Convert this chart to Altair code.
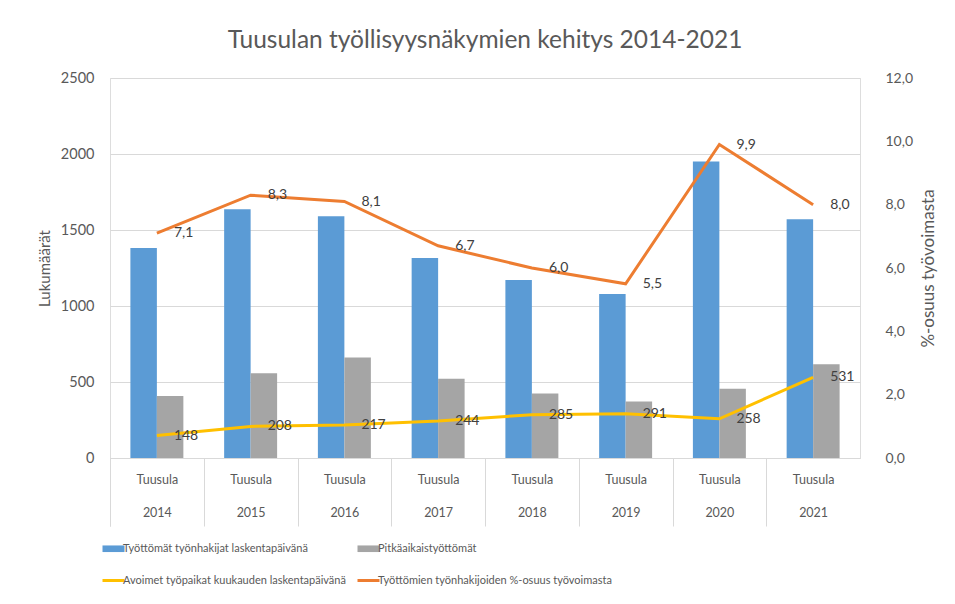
import altair as alt
import pandas as pd

years = ["2014", "2015", "2016", "2017", "2018", "2019", "2020", "2021"]
unemployed = [1382, 1636, 1590, 1315, 1171, 1079, 1950, 1571]
longterm = [408, 557, 662, 522, 425, 371, 456, 616]
vacancies = [148, 208, 217, 244, 285, 291, 258, 531]
rate = [7.1, 8.3, 8.1, 6.7, 6.0, 5.5, 9.9, 8.0]

s_unemp = "Työttömät työnhakijat laskentapäivänä"
s_long = "Pitkäaikaistyöttömät"
s_vac = "Avoimet työpaikat kuukauden laskentapäivänä"
s_rate = "Työttömien työnhakijoiden %-osuus työvoimasta"
series_order = [s_unemp, s_long, s_vac, s_rate]
colors = ["#5B9BD5", "#A5A5A5", "#FFC000", "#ED7D31"]

bars_df = pd.DataFrame(
    [{"year": y, "series": s_unemp, "value": v} for y, v in zip(years, unemployed)]
    + [{"year": y, "series": s_long, "value": v} for y, v in zip(years, longterm)]
)
vac_df = pd.DataFrame({"year": years, "series": s_vac, "value": vacancies})
rate_df = pd.DataFrame({"year": years, "series": s_rate, "value": rate})

FONT = "Lato"
TXT = "#595959"
GRID = "#D9D9D9"
P_IN = 0.435
P_OUT = P_IN / 2
STEP = 750 / 8
HALF_GAP = P_IN * STEP / 2

x_enc = alt.X(
    "year:N",
    sort=years,
    scale=alt.Scale(paddingInner=P_IN, paddingOuter=P_OUT),
    axis=alt.Axis(
        title=None,
        labelExpr="datum.label ? ['Tuusula', datum.label] : ''",
        labelAngle=0,
        bandPosition=0,
        tickExtra=True,
        tickOffset=-HALF_GAP,
        labelOffset=HALF_GAP,
        tickSize=68,
        tickColor=GRID,
        domain=True,
        domainColor=GRID,
        labelPadding=-53,
        labelLineHeight=33,
        labelFontSize=12.5,
        labelColor=TXT,
        labelFont=FONT,
        grid=False,
    ),
)

y_left = alt.Y(
    "value:Q",
    scale=alt.Scale(domain=[0, 2500]),
    axis=alt.Axis(
        title="Lukumäärät",
        values=[0, 500, 1000, 1500, 2000, 2500],
        format="d",
        orient="left",
        grid=True,
        gridColor=GRID,
        domain=False,
        ticks=False,
        labelPadding=16,
        labelFontSize=14.5,
        labelColor=TXT,
        labelFont=FONT,
        titleFontSize=15,
        titleFontWeight="normal",
        titleColor=TXT,
        titleFont=FONT,
        titlePadding=8,
    ),
)

y_right = alt.Y(
    "value:Q",
    scale=alt.Scale(domain=[0, 12]),
    axis=alt.Axis(
        title="%-osuus työvoimasta",
        values=[0, 2, 4, 6, 8, 10, 12],
        labelExpr="replace(format(datum.value, '.1f'), '.', ',')",
        orient="right",
        grid=False,
        domain=False,
        ticks=False,
        labelPadding=25,
        labelFontSize=14,
        labelColor=TXT,
        labelFont=FONT,
        titleFontSize=17,
        titleFontWeight="normal",
        titleColor=TXT,
        titleFont=FONT,
        titleAngle=270,
        titlePadding=25,
    ),
)

is_bar = f"(datum.value === '{s_unemp}' || datum.value === '{s_long}')"

color_enc = alt.Color(
    "series:N",
    scale=alt.Scale(domain=series_order, range=colors),
    legend=alt.Legend(
        title=None,
        orient="none",
        legendX=-2,
        legendY=465,
        columns=2,
        direction="horizontal",
        gridAlign="each",
        columnPadding=5,
        rowPadding=20,
        symbolSize=484,
        labelOffset=4,
        labelFontSize=11,
        labelColor=TXT,
        labelFont=FONT,
        labelLimit=400,
        symbolType={"expr": f"{is_bar} ? 'M-1,-0.3H1V0.3H-1Z' : 'M-1,0H1'"},
        symbolStrokeWidth={"expr": f"{is_bar} ? 0 : 3"},
        symbolStrokeColor={"expr": "scale('color', datum.value)"},
        symbolOpacity=1,
    ),
)

bars = alt.Chart(bars_df).mark_bar().encode(
    x=x_enc,
    y=y_left,
    xOffset=alt.XOffset("series:N", sort=[s_unemp, s_long], scale=alt.Scale(paddingInner=0, paddingOuter=0)),
    color=color_enc,
)

vac_line = alt.Chart(vac_df).mark_line(strokeWidth=3).encode(
    x=x_enc,
    y=y_left,
    color=alt.Color("series:N", legend=None),
)
vac_text = alt.Chart(vac_df).mark_text(
    align="left", baseline="middle", dx=17, fontSize=14, font=FONT, color="#404040"
).encode(x=x_enc, y=y_left, text=alt.Text("value:Q", format="d"))

rate_line = alt.Chart(rate_df).mark_line(strokeWidth=3).encode(
    x=x_enc,
    y=y_right,
    color=alt.Color("series:N", legend=None),
)
rate_text = alt.Chart(rate_df).transform_calculate(
    lbl="replace(format(datum.value, '.1f'), '.', ',')"
).mark_text(
    align="left", baseline="middle", dx=17, fontSize=14, font=FONT, color="#404040"
).encode(x=x_enc, y=y_right, text="lbl:N")

left = alt.layer(bars, vac_line, vac_text)
right = alt.layer(rate_line, rate_text)

chart = (
    alt.layer(left, right)
    .resolve_scale(y="independent")
    .properties(
        width=750,
        height=380,
        title=alt.TitleParams(
            "Tuusulan työllisyysnäkymien kehitys 2014-2021",
            fontSize=24.5,
            font=FONT,
            fontWeight="normal",
            color=TXT,
            anchor="middle",
            offset=17,
        ),
        autosize=alt.AutoSizeParams(type="none"),
        padding={"left": 102, "top": 70, "right": 87, "bottom": 130},
    )
    .configure_view(stroke=None)
    .configure_axisY(domain=False, ticks=False)
    .configure(background="white")
)

chart.save("out.html", embed_options={"renderer": "svg", "actions": False})
